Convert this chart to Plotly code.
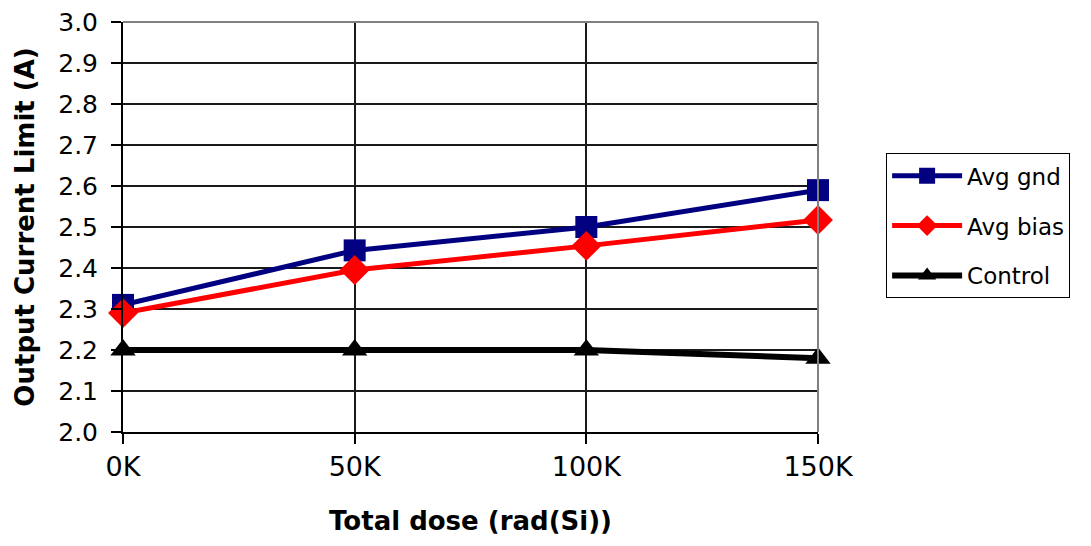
import plotly.graph_objects as go

dose = [0, 50, 100, 150]
dose_labels = ["0K", "50K", "100K", "150K"]
y_ticks = [2.0, 2.1, 2.2, 2.3, 2.4, 2.5, 2.6, 2.7, 2.8, 2.9, 3.0]
y_tick_labels = ["2.0", "2.1", "2.2", "2.3", "2.4", "2.5", "2.6", "2.7", "2.8", "2.9", "3.0"]
avg_gnd = [2.31, 2.443, 2.50, 2.59]
avg_bias = [2.29, 2.395, 2.454, 2.517]
control = [2.20, 2.20, 2.20, 2.18]

FONT = "DejaVu Sans, Arial, sans-serif"

fig = go.Figure()
fig.add_trace(go.Scatter(x=dose, y=avg_gnd, name="Avg gnd", mode="lines+markers",
                         line=dict(color="#000080", width=5),
                         marker=dict(symbol="square", size=22, color="#000080"),
                         legendgroup="a", cliponaxis=False))
fig.add_trace(go.Scatter(x=dose, y=avg_bias, name="Avg bias", mode="lines+markers",
                         line=dict(color="#FF0000", width=5),
                         marker=dict(symbol="diamond", size=23, color="#FF0000"),
                         legendgroup="b", cliponaxis=False))
fig.add_trace(go.Scatter(x=dose, y=control, name="Control", mode="lines+markers",
                         line=dict(color="#000000", width=6),
                         marker=dict(symbol="triangle-up", size=22, color="#000000"),
                         legendgroup="c", cliponaxis=False))

# gray top/right border
fig.add_shape(type="line", xref="paper", yref="paper", x0=0, x1=1, y0=1, y1=1,
              line=dict(color="#808080", width=2), layer="above")
fig.add_shape(type="line", xref="paper", yref="paper", x0=1, x1=1, y0=0, y1=1,
              line=dict(color="#808080", width=2), layer="above")

fig.update_layout(
    width=1083, height=538,
    margin=dict(l=115, r=273, t=14, b=114, autoexpand=False),
    paper_bgcolor="white", plot_bgcolor="white",
    font=dict(family=FONT, size=24, color="black"),
    showlegend=True,
    legend=dict(x=1.098, y=0.68, xanchor="left", yanchor="top",
                bordercolor="black", borderwidth=1, bgcolor="white",
                font=dict(family=FONT, size=23, color="black"),
                traceorder="grouped", tracegroupgap=17,
                itemwidth=70),
    xaxis=dict(range=[0, 150], tickmode="array", tickvals=dose, ticktext=dose_labels,
               showgrid=True, gridcolor="#1a1a1a", gridwidth=1.5,
               showline=True, linecolor="black", linewidth=2,
               ticks="outside", ticklen=10, tickcolor="black", tickwidth=1.5,
               zeroline=False, ticklabeloverflow="allow", automargin=False,
               tickfont=dict(size=27),
               title=dict(text="<b>Total dose (rad(Si))</b>", font=dict(size=26), standoff=30)),
    yaxis=dict(range=[2.0, 3.0001], tickmode="array", tickvals=y_ticks, ticktext=y_tick_labels,
               showgrid=True, gridcolor="#1a1a1a", gridwidth=1.5,
               showline=True, linecolor="black", linewidth=2,
               ticks="outside", ticklen=10, tickcolor="black", tickwidth=1.5,
               ticklabelstandoff=8, ticklabeloverflow="allow", automargin=False,
               zeroline=False,
               tickfont=dict(size=25),
               title=dict(text="<b>Output Current Limit (A)</b>", font=dict(size=26), standoff=16)),
)

fig.write_html("out.html")
